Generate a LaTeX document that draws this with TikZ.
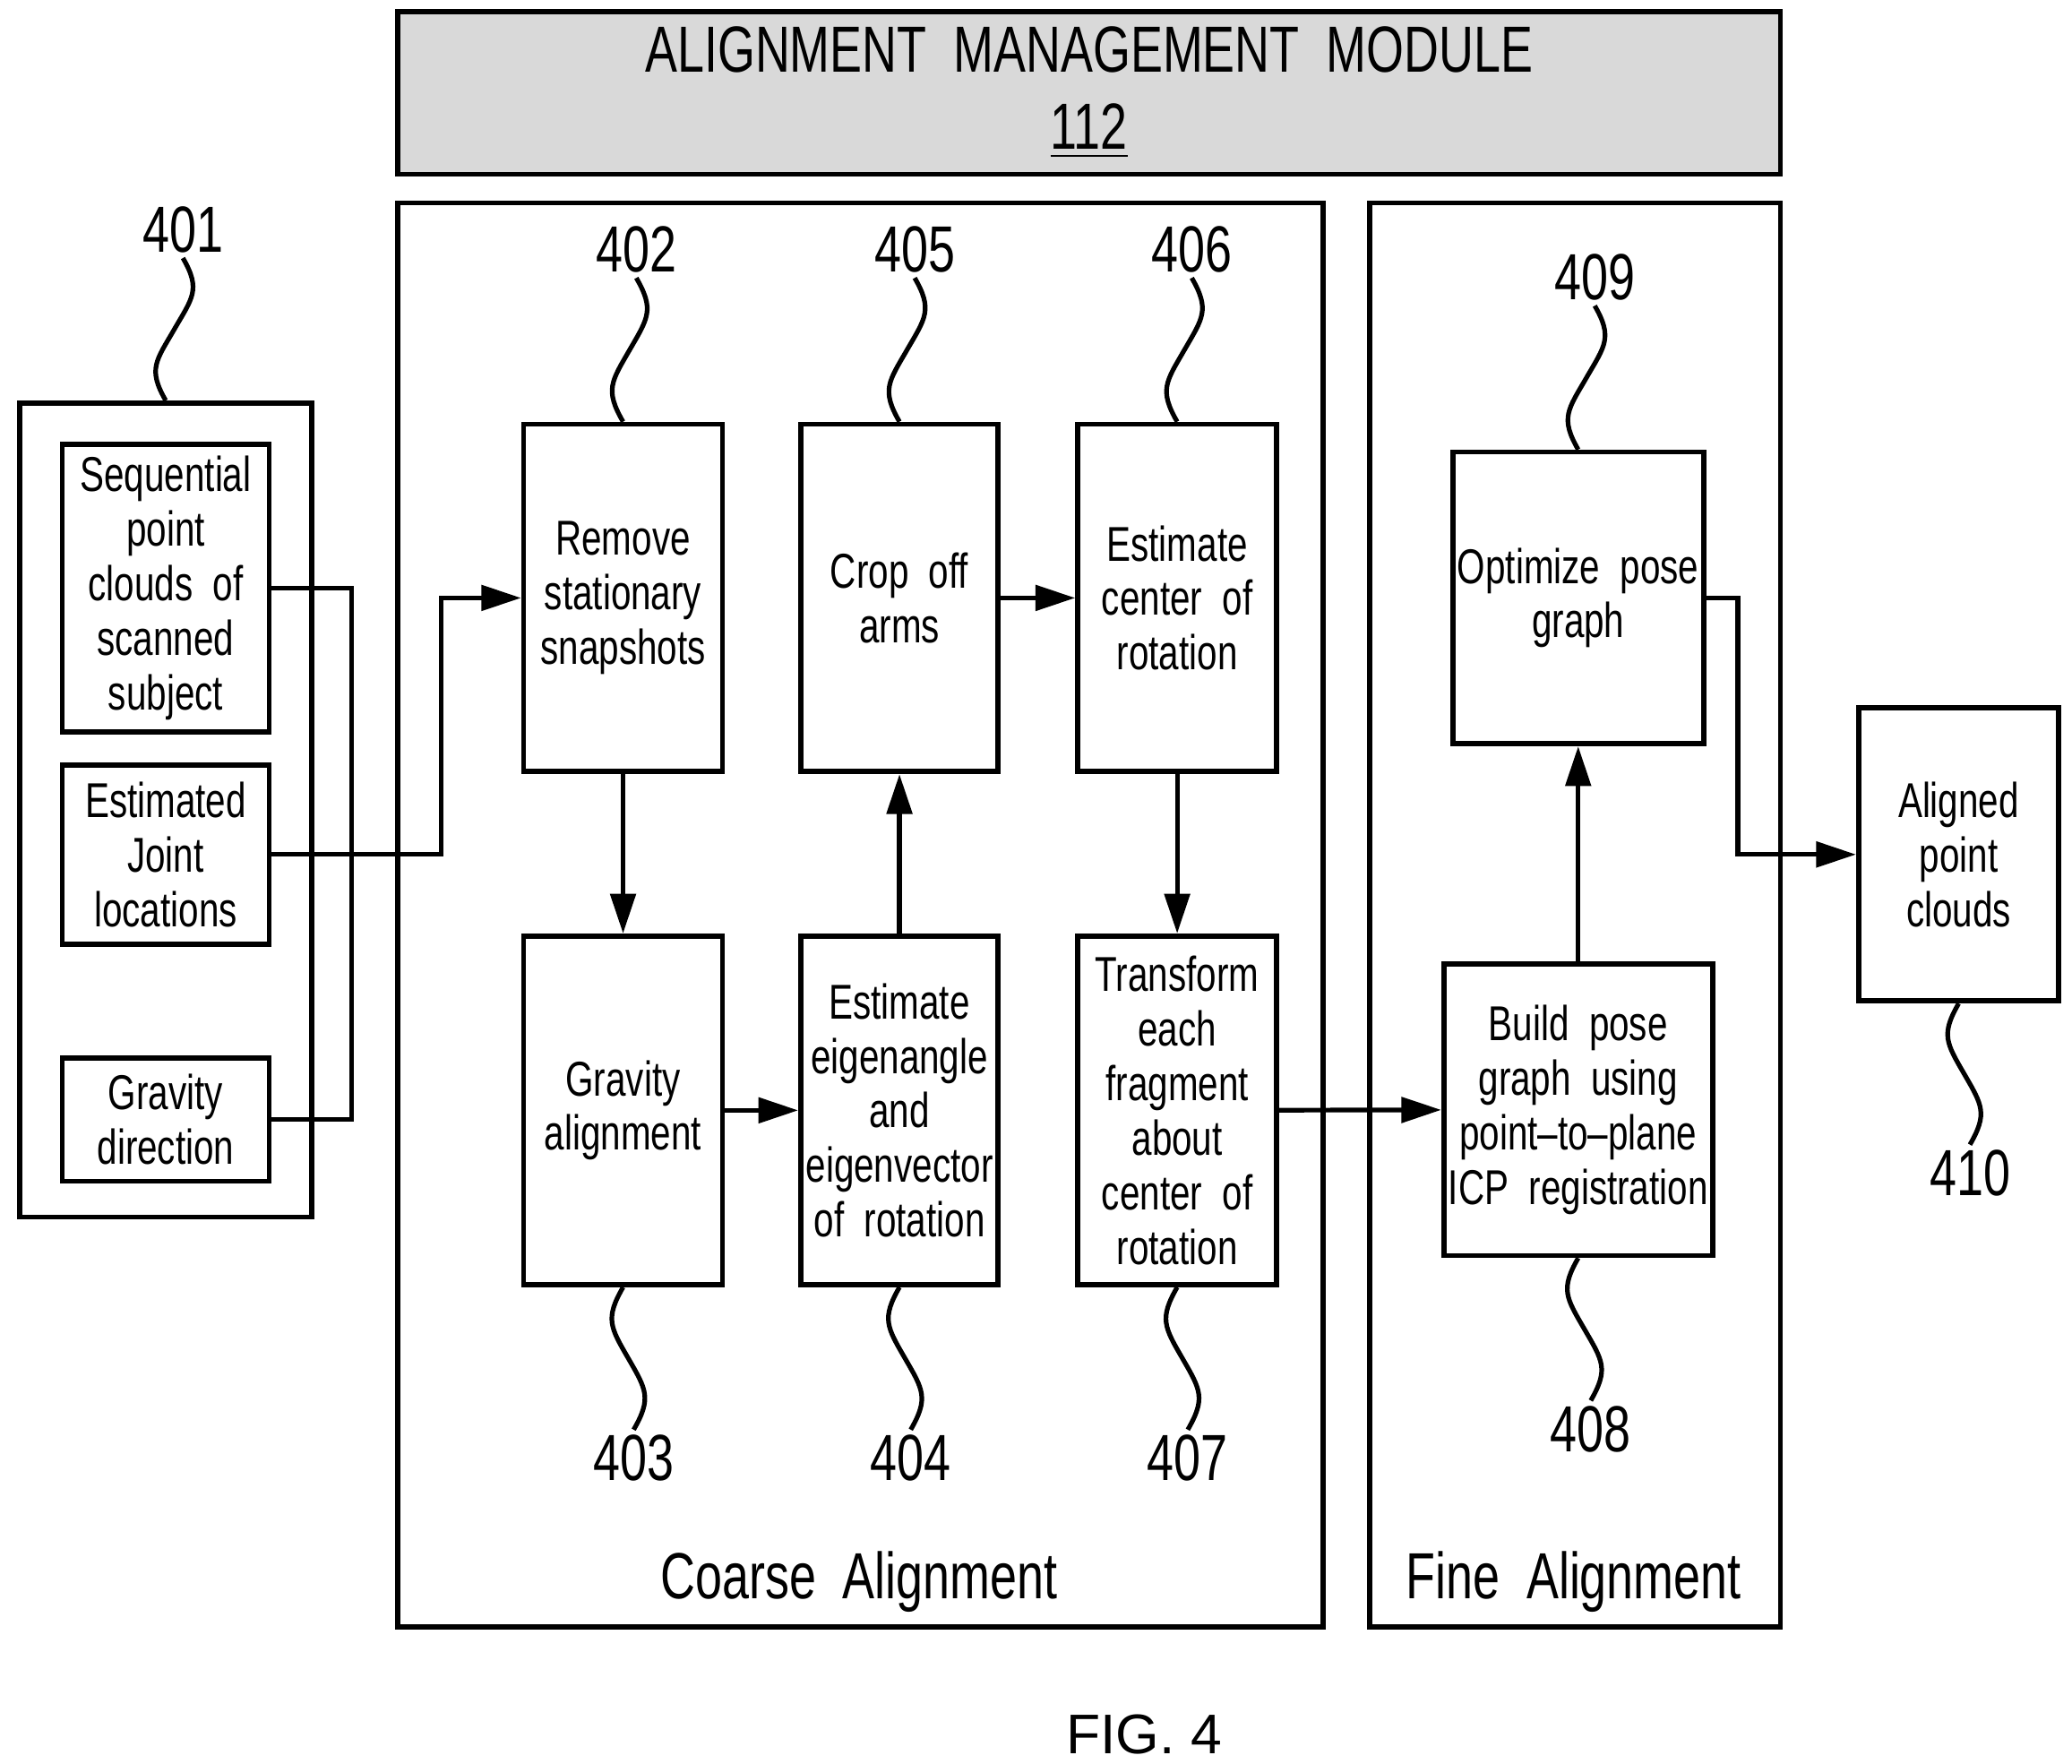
\documentclass[tikz,border=0pt]{standalone}
\usepackage{fontspec}
\setmainfont{Liberation Sans}[FakeStretch=0.74]
\newfontfamily\capfont{Liberation Sans}
\usetikzlibrary{arrows.meta, positioning, calc}

\begin{document}
\begin{tikzpicture}[
        box/.style={draw, line width=1.1pt, align=center, inner sep=1pt,
                    font=\fontsize{10.5}{11.7}\selectfont},
        frame/.style={draw, line width=1.1pt},
        arr/.style={-{Triangle[length=3mm,width=1.9mm]}, line width=1pt},
        ln/.style={line width=1pt},
        num/.style={font=\fontsize{14}{14}\selectfont, inner sep=1pt},
        lead/.style={line width=1pt},
      ]
        \useasboundingbox (0,0) rectangle (15.63,-13.30);

        % Header
        \node[frame, fill=gray!30, minimum width=10.43cm, minimum height=1.16cm,
              align=center, font=\fontsize{14}{16.5}\selectfont] (head) at (8.215,-0.70)
          {ALIGNMENT\ \ MANAGEMENT\ \ MODULE\\\underline{112}};

        % Groups
        \node[frame, minimum width=6.98cm, minimum height=10.74cm] (coarse) at (6.49,-6.90) {};
        \node[frame, minimum width=3.10cm, minimum height=10.74cm] (fine) at (11.88,-6.90) {};
        \node[frame, minimum width=2.20cm, minimum height=6.14cm] (inp) at (1.25,-6.11) {};
        \node[font=\fontsize{14}{14}\selectfont] at (6.48,-11.93) {Coarse\ \ Alignment};
        \node[font=\fontsize{14}{14}\selectfont] at (11.87,-11.93) {Fine\ \ Alignment};

        % Inputs
        \node[box, minimum width=1.56cm, minimum height=2.17cm] (seq) at (1.25,-4.435)
          {Sequential\\point\\clouds\ \ of\\scanned\\subject};
        \node[box, minimum width=1.56cm, minimum height=1.35cm] (joint) at (1.25,-6.445)
          {Estimated\\Joint\\locations};
        \node[box, minimum width=1.56cm, minimum height=0.93cm] (grav) at (1.25,-8.445)
          {Gravity\\direction};

        % Coarse alignment steps
        \node[box, minimum width=1.50cm, minimum height=2.62cm] (b402) at (4.70,-4.51)
          {Remove\\stationary\\snapshots};
        \node[box, minimum width=1.49cm, minimum height=2.62cm] (b405) at (6.785,-4.51)
          {Crop\ \ off\\arms};
        \node[box, minimum width=1.50cm, minimum height=2.62cm] (b406) at (8.88,-4.51)
          {Estimate\\center\ \ of\\rotation};
        \node[box, minimum width=1.50cm, minimum height=2.63cm] (b403) at (4.70,-8.375)
          {Gravity\\alignment};
        \node[box, minimum width=1.49cm, minimum height=2.63cm] (b404) at (6.785,-8.375)
          {Estimate\\eigenangle\\and\\eigenvector\\of\ \ rotation};
        \node[box, minimum width=1.50cm, minimum height=2.63cm] (b407) at (8.88,-8.375)
          {Transform\\each\\fragment\\about\\center\ \ of\\rotation};

        % Fine alignment steps
        \node[box, minimum width=1.83cm, minimum height=2.20cm] (b409) at (11.905,-4.51)
          {Optimize\ \ pose\\graph};
        \node[box, minimum width=1.83cm, minimum height=2.20cm] (b408) at (11.905,-8.37)
          {Build\ \ pose\\graph\ \ using\\point--to--plane\\ICP\ \ registration};

        % Output
        \node[box, minimum width=1.51cm, minimum height=2.21cm] (b410) at (14.775,-6.445)
          {Aligned\\point\\clouds};

        % Connectors
        \coordinate (brk) at (2.65,-6.0);
        \coordinate (jn) at (3.33,-6.445);
        \coordinate (on) at (13.11,-4.51);
        \draw[ln] (seq.east) -- (seq.east -| brk) -- (grav.east -| brk) -- (grav.east);
        \draw[arr] (joint.east) -- (jn) |- (b402.west);
        \draw[arr] (b402) -- (b403);
        \draw[arr] (b403) -- (b404);
        \draw[arr] (b404) -- (b405);
        \draw[arr] (b405) -- (b406);
        \draw[arr] (b406) -- (b407);
        \draw[arr] (b407) -- (b408);
        \draw[arr] (b408) -- (b409);
        \draw[arr] (b409.east) -- (on) |- (b410.west);

        % Reference numerals
        \node[num] (n401) at (1.38,-1.73) {401};
        \node[num] (n402) at (4.80,-1.88) {402};
        \node[num] (n405) at (6.90,-1.88) {405};
        \node[num] (n406) at (8.99,-1.88) {406};
        \node[num] (n409) at (12.03,-2.09) {409};
        \node[num] (n403) at (4.78,-11.00) {403};
        \node[num] (n404) at (6.87,-11.00) {404};
        \node[num] (n407) at (8.96,-11.00) {407};
        \node[num] (n408) at (12.00,-10.78) {408};
        \node[num] (n410) at (14.86,-8.85) {410};

        \foreach \n/\b in {401/inp, 402/b402, 405/b405, 406/b406, 409/b409}
          \draw[lead] (n\n.south) to[out=-60,in=60,looseness=1.3] ($(n\n.south)!0.5!(\b.north)$)
                      to[out=-120,in=120,looseness=1.3] (\b.north);
        \foreach \n/\b in {403/b403, 404/b404, 407/b407, 408/b408, 410/b410}
          \draw[lead] (\b.south) to[out=-120,in=120,looseness=1.3] ($(\b.south)!0.5!(n\n.north)$)
                      to[out=-60,in=60,looseness=1.3] (n\n.north);

        \node[font=\capfont\fontsize{12}{12}\selectfont] (fig) at (8.63,-13.08) {FIG. 4};
      \end{tikzpicture}
\end{document}
